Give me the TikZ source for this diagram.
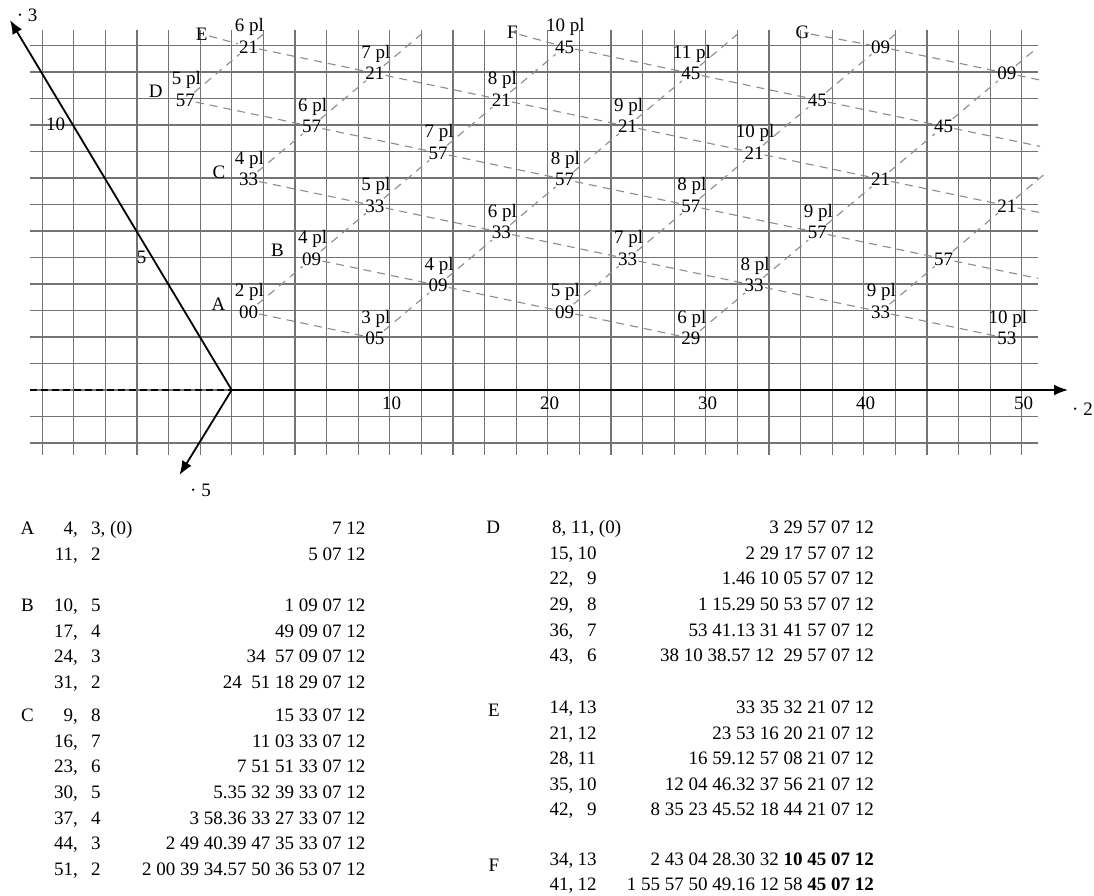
\documentclass[tikz,border=0pt]{standalone}
\usepackage{fontspec}
\setmainfont{Liberation Serif}
\usetikzlibrary{arrows.meta}
\begin{document}
\begin{tikzpicture}[x=1pt,y=-1pt,
  font=\fontsize{19}{22}\selectfont,
  gridline/.style={draw=black!55, line width=1.2pt},
  guide/.style={draw=black!45, line width=1.1pt, dash pattern=on 8pt off 6pt},
  axisline/.style={draw=black, line width=1.8pt},
  tipped/.style={-{Latex[length=14pt,width=11pt]}},
  numlbl/.style={anchor=base, inner sep=1pt, xshift=1pt, yshift=-7.5pt},
  pllbl/.style={anchor=base, inner sep=1pt, xshift=2pt, yshift=14pt},
  letter/.style={anchor=base, inner sep=1.5pt},
  tleft/.style={anchor=base west, inner sep=0pt},
  tright/.style={anchor=base east, inner sep=0pt},
]
\fill[white] (0,0) rectangle (1094,895);
\useasboundingbox (0,0) rectangle (1094,895);

% grid
\foreach \k in {-6,...,25} \draw[gridline] ({231.7+31.6*\k},30) -- ({231.7+31.6*\k},455);
\foreach \j in {-2,...,13} \draw[gridline] (30,{390-26.5*\j}) -- (1038,{390-26.5*\j});

% axes
\coordinate (O) at (231.7,390);
\coordinate (X2) at (1068,390);
\coordinate (X3) at (10,20);
\coordinate (X5) at (179.5,475);
\coordinate (Xl) at (30,390);
\draw[black, line width=1.3pt, dash pattern=on 7pt off 4pt] (Xl) -- (O);
\draw[axisline,tipped] (O) -- (X2);
\draw[axisline,tipped] (O) -- (X3);
\draw[axisline,tipped] (O) -- (X5);

\node[tleft] (lab3) at (16.7,21.4) {· 3};
\node[tleft] (lab2) at (1072,415) {· 2};
\node[tleft] (lab5) at (190,496.7) {· 5};
\node[anchor=base] (h10) at (391.7,409) {10};
\node[anchor=base] (h20) at (549.7,409) {20};
\node[anchor=base] (h30) at (707.7,409) {30};
\node[anchor=base] (h40) at (865.7,409) {40};
\node[anchor=base] (h50) at (1023.7,409) {50};
\node[anchor=base] (v10) at (55.5,130.6) {10};
\node[anchor=base] (v5) at (141.7,263) {5};

% letters
\node[letter] (Alet) at (218.5,310.3) {A};
\node[letter] (Blet) at (277.5,256.3) {B};
\node[letter] (Clet) at (219,178) {C};
\node[letter] (Dlet) at (155.8,97.1) {D};
\node[letter] (Elet) at (201.7,40.1) {E};
\node[letter] (Flet) at (512.5,38.8) {F};
\node[letter] (Glet) at (802.5,38.8) {G};

% points
\node[numlbl] (A1) at (247.5,310.5) {00}; \node[pllbl] (A1p) at (247.5,310.5) {2 pl};
\node[numlbl] (A2) at (373.9,337) {05};   \node[pllbl] (A2p) at (373.9,337) {3 pl};

\node[numlbl] (B1) at (310.7,257.5) {09}; \node[pllbl] (B1p) at (310.7,257.5) {4 pl};
\node[numlbl] (B2) at (437.1,284) {09};   \node[pllbl] (B2p) at (437.1,284) {4 pl};
\node[numlbl] (B3) at (563.5,310.5) {09}; \node[pllbl] (B3p) at (563.5,310.5) {5 pl};
\node[numlbl] (B4) at (689.9,337) {29};   \node[pllbl] (B4p) at (689.9,337) {6 pl};

\node[numlbl] (C1) at (247.5,178) {33};   \node[pllbl] (C1p) at (247.5,178) {4 pl};
\node[numlbl] (C2) at (373.9,204.5) {33}; \node[pllbl] (C2p) at (373.9,204.5) {5 pl};
\node[numlbl] (C3) at (500.3,231) {33};   \node[pllbl] (C3p) at (500.3,231) {6 pl};
\node[numlbl] (C4) at (626.7,257.5) {33}; \node[pllbl] (C4p) at (626.7,257.5) {7 pl};
\node[numlbl] (C5) at (753.1,284) {33};   \node[pllbl] (C5p) at (753.1,284) {8 pl};
\node[numlbl] (C6) at (879.5,310.5) {33}; \node[pllbl] (C6p) at (879.5,310.5) {9 pl};
\node[numlbl] (C7) at (1005.9,337) {53};  \node[pllbl] (C7p) at (1005.9,337) {10 pl};

\node[numlbl] (D1) at (184.3,98.5) {57};  \node[pllbl] (D1p) at (184.3,98.5) {5 pl};
\node[numlbl] (D2) at (310.7,125) {57};   \node[pllbl] (D2p) at (310.7,125) {6 pl};
\node[numlbl] (D3) at (437.1,151.5) {57}; \node[pllbl] (D3p) at (437.1,151.5) {7 pl};
\node[numlbl] (D4) at (563.5,178) {57};   \node[pllbl] (D4p) at (563.5,178) {8 pl};
\node[numlbl] (D5) at (689.9,204.5) {57}; \node[pllbl] (D5p) at (689.9,204.5) {8 pl};
\node[numlbl] (D6) at (816.3,231) {57};   \node[pllbl] (D6p) at (816.3,231) {9 pl};
\node[numlbl] (D7) at (942.7,257.5) {57};

\node[numlbl] (E1) at (247.5,45.5) {21};  \node[pllbl] (E1p) at (247.5,45.5) {6 pl};
\node[numlbl] (E2) at (373.9,72) {21};    \node[pllbl] (E2p) at (373.9,72) {7 pl};
\node[numlbl] (E3) at (500.3,98.5) {21};  \node[pllbl] (E3p) at (500.3,98.5) {8 pl};
\node[numlbl] (E4) at (626.7,125) {21};   \node[pllbl] (E4p) at (626.7,125) {9 pl};
\node[numlbl] (E5) at (753.1,151.5) {21}; \node[pllbl] (E5p) at (753.1,151.5) {10 pl};
\node[numlbl] (E6) at (879.5,178) {21};
\node[numlbl] (E7) at (1005.9,204.5) {21};

\node[numlbl] (F1) at (563.5,45.5) {45};  \node[pllbl] (F1p) at (563.5,45.5) {10 pl};
\node[numlbl] (F2) at (689.9,72) {45};    \node[pllbl] (F2p) at (689.9,72) {11 pl};
\node[numlbl] (F3) at (816.3,98.5) {45};
\node[numlbl] (F4) at (942.7,125) {45};

\node[numlbl] (G1) at (879.5,45.5) {09};
\node[numlbl] (G2) at (1005.9,72) {09};

% free ends
\coordinate (L1end) at (267.1,31);
\coordinate (L2end) at (426.3,30);
\coordinate (L4end) at (742.3,30);
\coordinate (L5end) at (900.3,30);
\coordinate (L6end) at (1034.5,50);
\coordinate (L7end) at (1045.8,173);
\coordinate (Dend) at (1038,278.4);
\coordinate (Eend) at (1043,213.2);
\coordinate (Fend) at (1040,146.3);
\coordinate (Gend) at (1040,80);

% guide lines
\draw[guide] (A1) -- (A2);
\draw[guide] (B1) -- (B2) -- (B3) -- (B4);
\draw[guide] (C1) -- (C2) -- (C3) -- (C4) -- (C5) -- (C6) -- (C7);
\draw[guide] (D1) -- (D2) -- (D3) -- (D4) -- (D5) -- (D6) -- (D7) -- (Dend);
\draw[guide] (Elet) -- (E1) -- (E2) -- (E3) -- (E4) -- (E5) -- (E6) -- (E7) -- (Eend);
\draw[guide] (Flet) -- (F1) -- (F2) -- (F3) -- (F4) -- (Fend);
\draw[guide] (Glet) -- (G1) -- (G2) -- (Gend);

\draw[guide] (D1) -- (E1) -- (L1end);
\draw[guide] (C1) -- (D2) -- (E2) -- (L2end);
\draw[guide] (A1) -- (B1) -- (C2) -- (D3) -- (E3) -- (F1);
\draw[guide] (A2) -- (B2) -- (C3) -- (D4) -- (E4) -- (F2) -- (L4end);
\draw[guide] (B3) -- (C4) -- (D5) -- (E5) -- (F3) -- (G1) -- (L5end);
\draw[guide] (B4) -- (C5) -- (D6) -- (E6) -- (F4) -- (G2) -- (L6end);
\draw[guide] (C6) -- (D7) -- (E7) -- (L7end);

% ---------- table, left block ----------
\node[letter] (tA) at (27.5,534) {A};
\node[tright] (ra1x) at (78,534) {4,};  \node[tleft] (ra1y) at (91,534) {3, (0)}; \node[tright] (ra1v) at (365.5,534) {7 12};
\node[tright] (ra2x) at (78,560) {11,}; \node[tleft] (ra2y) at (91,560) {2};      \node[tright] (ra2v) at (365.5,560) {5 07 12};

\node[letter] (tB) at (27.5,611.5) {B};
\node[tright] (rb1x) at (78,611.5) {10,}; \node[tleft] (rb1y) at (91,611.5) {5}; \node[tright] (rb1v) at (365.5,611.5) {1 09 07 12};
\node[tright] (rb2x) at (78,637) {17,};   \node[tleft] (rb2y) at (91,637) {4};   \node[tright] (rb2v) at (365.5,637) {49 09 07 12};
\node[tright] (rb3x) at (78,662.5) {24,}; \node[tleft] (rb3y) at (91,662.5) {3}; \node[tright] (rb3v) at (365.5,662.5) {34\ \ 57 09 07 12};
\node[tright] (rb4x) at (78,688) {31,};   \node[tleft] (rb4y) at (91,688) {2};   \node[tright] (rb4v) at (365.5,688) {24\ \ 51 18 29 07 12};

\node[letter] (tC) at (27.5,721.7) {C};
\node[tright] (rc1x) at (78,721.7) {9,};  \node[tleft] (rc1y) at (91,721.7) {8}; \node[tright] (rc1v) at (365.5,721.7) {15 33 07 12};
\node[tright] (rc2x) at (78,747.3) {16,}; \node[tleft] (rc2y) at (91,747.3) {7}; \node[tright] (rc2v) at (365.5,747.3) {11 03 33 07 12};
\node[tright] (rc3x) at (78,772.9) {23,}; \node[tleft] (rc3y) at (91,772.9) {6}; \node[tright] (rc3v) at (365.5,772.9) {7 51 51 33 07 12};
\node[tright] (rc4x) at (78,798.5) {30,}; \node[tleft] (rc4y) at (91,798.5) {5}; \node[tright] (rc4v) at (365.5,798.5) {5.35 32 39 33 07 12};
\node[tright] (rc5x) at (78,824.1) {37,}; \node[tleft] (rc5y) at (91,824.1) {4}; \node[tright] (rc5v) at (365.5,824.1) {3 58.36 33 27 33 07 12};
\node[tright] (rc6x) at (78,849.7) {44,}; \node[tleft] (rc6y) at (91,849.7) {3}; \node[tright] (rc6v) at (365.5,849.7) {2 49 40.39 47 35 33 07 12};
\node[tright] (rc7x) at (78,875.3) {51,}; \node[tleft] (rc7y) at (91,875.3) {2}; \node[tright] (rc7v) at (365.5,875.3) {2 00 39 34.57 50 36 53 07 12};

% ---------- table, right block ----------
\node[letter] (tD) at (493.3,533.3) {D};
\node[tleft] (rd1x) at (552,533.3) {8, 11, (0)}; \node[tright] (rd1v) at (874,533.3) {3 29 57 07 12};
\node[tright] (rd2x) at (573.5,559) {15,};   \node[tleft] (rd2y) at (577.5,559) {10}; \node[tright] (rd2v) at (874,559) {2 29 17 57 07 12};
\node[tright] (rd3x) at (573.5,584.7) {22,}; \node[tleft] (rd3y) at (587,584.7) {9};    \node[tright] (rd3v) at (874,584.7) {1.46 10 05 57 07 12};
\node[tright] (rd4x) at (573.5,610.3) {29,}; \node[tleft] (rd4y) at (587,610.3) {8};    \node[tright] (rd4v) at (874,610.3) {1 15.29 50 53 57 07 12};
\node[tright] (rd5x) at (573.5,636) {36,};   \node[tleft] (rd5y) at (587,636) {7};      \node[tright] (rd5v) at (874,636) {53 41.13 31 41 57 07 12};
\node[tright] (rd6x) at (573.5,661.6) {43,}; \node[tleft] (rd6y) at (587,661.6) {6};    \node[tright] (rd6v) at (874,661.6) {38 10 38.57 12\ \ 29 57 07 12};

\node[letter] (tE) at (494,716.7) {E};
\node[tright] (re1x) at (573.5,713.5) {14,}; \node[tleft] (re1y) at (577.5,713.5) {13}; \node[tright] (re1v) at (874,713.5) {33 35 32 21 07 12};
\node[tright] (re2x) at (573.5,739.1) {21,}; \node[tleft] (re2y) at (577.5,739.1) {12}; \node[tright] (re2v) at (874,739.1) {23 53 16 20 21 07 12};
\node[tright] (re3x) at (573.5,764.7) {28,}; \node[tleft] (re3y) at (577.5,764.7) {11}; \node[tright] (re3v) at (874,764.7) {16 59.12 57 08 21 07 12};
\node[tright] (re4x) at (573.5,790.3) {35,}; \node[tleft] (re4y) at (577.5,790.3) {10}; \node[tright] (re4v) at (874,790.3) {12 04 46.32 37 56 21 07 12};
\node[tright] (re5x) at (573.5,815.9) {42,}; \node[tleft] (re5y) at (587,815.9) {9};    \node[tright] (re5v) at (874,815.9) {8 35 23 45.52 18 44 21 07 12};

\node[letter] (tF) at (494,871.5) {F};
\node[tright] (rf1x) at (573.5,865) {34,};   \node[tleft] (rf1y) at (577.5,865) {13};   \node[tright] (rf1v) at (874,865) {2 43 04 28.30 32 \textbf{10 45 07 12}};
\node[tright] (rf2x) at (573.5,890.5) {41,}; \node[tleft] (rf2y) at (577.5,890.5) {12}; \node[tright] (rf2v) at (874,890.5) {1 55 57 50 49.16 12 58 \textbf{45 07 12}};
\end{tikzpicture}
\end{document}
